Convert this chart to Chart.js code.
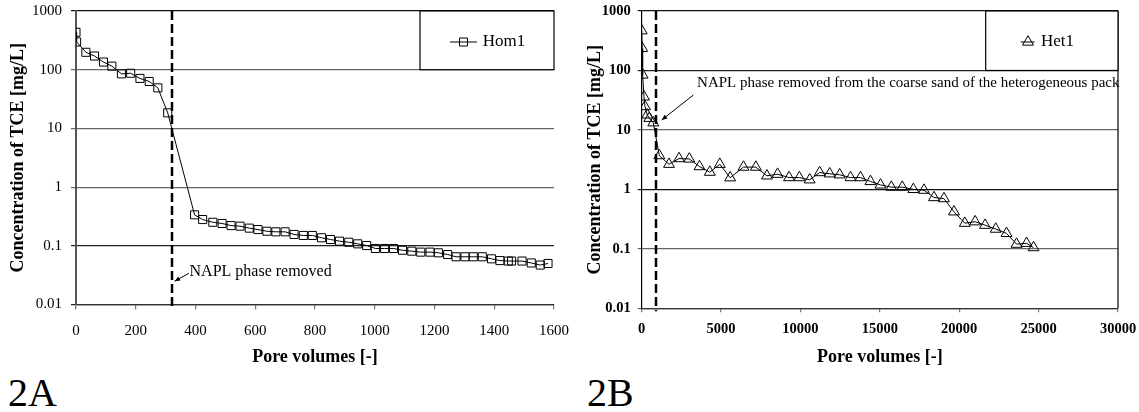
<!DOCTYPE html>
<html><head><meta charset="utf-8">
<script src="https://cdn.jsdelivr.net/npm/chart.js@4.4.0/dist/chart.umd.min.js"></script>
<style>
html,body{margin:0;padding:0;background:#fff;width:1139px;height:412px;overflow:hidden;}
#w1{position:absolute;left:0;top:0;width:570px;height:368px;}
#w2{position:absolute;left:575px;top:0;width:564px;height:368px;}
.lab{position:absolute;font-family:"Liberation Serif",serif;font-size:40px;line-height:1;color:#000;}
</style></head><body>
<div id="w1"><canvas id="c1" width="570" height="368"></canvas></div>
<div id="w2"><canvas id="c2" width="564" height="368"></canvas></div>
<div class="lab" style="left:8px;top:373px">2A</div>
<div class="lab" style="left:587px;top:373px">2B</div>
<script>
// ---- data ----
const homLabel = 'Hom1';
const homPV = [0,2,33,62,92,120,152,183,214,245,274,307,397,
  424,458,489,519,549,580,609,639,669,700,730,761,791,822,852,882,913,943,973,1002,
  1033,1063,1093,1124,1154,1185,1213,1244,1272,1302,1330,1360,1391,1419,1447,1458,1493,1524,1554,1580];
const homConc = [434,297,198,171,135,115,85,87,71,63,49,18.4,0.337,
  0.28,0.252,0.240,0.221,0.216,0.200,0.189,0.177,0.173,0.173,0.156,0.150,0.150,0.137,0.128,0.120,0.115,0.108,0.101,0.090,
  0.090,0.090,0.084,0.081,0.078,0.078,0.076,0.071,0.065,0.065,0.065,0.065,0.060,0.056,0.055,0.055,0.055,0.051,0.047,0.050];

const hetLabel = 'Het1';
const hetPV = [0,30,60,145,210,350,480,730,1110,1720,2350,3000,3640,4290,4920,5570,6410,7190,
  7890,8560,9280,9930,10580,11210,11840,12470,13150,13780,14410,15040,15720,16410,17110,17780,
  18410,19040,19670,20350,21000,21630,22300,22980,23610,24240,24680];
const hetConc = [466,236,84,36,24.7,17.9,15.7,13.2,3.7,2.65,3.3,3.25,2.42,1.95,2.65,1.57,2.37,2.37,
  1.69,1.80,1.58,1.58,1.45,1.92,1.83,1.76,1.58,1.58,1.36,1.19,1.09,1.09,1.0,0.97,
  0.73,0.70,0.42,0.27,0.286,0.25,0.215,0.182,0.12,0.124,0.105];

const yTicks = [0.01,0.1,1,10,100,1000];
const homXTicks = [0,200,400,600,800,1000,1200,1400,1600];
const hetXTicks = [0,5000,10000,15000,20000,25000,30000];

const homNapl = 322;   // pore volume where NAPL phase removed (hom)
const hetNapl = 900;   // pore volume where NAPL removed from coarse sand (het)
const homNote = 'NAPL phase removed';
const hetNote = 'NAPL phase removed from the coarse sand of the heterogeneous pack';
const yTitle = 'Concentration of TCE [mg/L]';
const xTitle = 'Pore volumes [-]';

// ---- helpers ----
const SERIF = '"Liberation Serif", "Times New Roman", serif';
const pts = (xs, ys) => xs.map((v, i) => ({x: v, y: ys[i]}));

const deco = {
  id: 'deco',
  afterDraw(chart, args, o) {
    const {ctx, chartArea: a, scales: {x, y}} = chart;
    ctx.save();
    if (o.rightBorder) {
      ctx.strokeStyle = '#000'; ctx.lineWidth = 1.2;
      ctx.beginPath(); ctx.moveTo(a.right, a.top); ctx.lineTo(a.right, a.bottom); ctx.stroke();
    }
    // dashed marker line
    const px = Math.round(x.getPixelForValue(o.napl));
    ctx.strokeStyle = '#000'; ctx.lineWidth = 2.5; ctx.setLineDash([9, 4]);
    ctx.beginPath(); ctx.moveTo(px, a.top); ctx.lineTo(px, a.bottom + 3); ctx.stroke();
    ctx.setLineDash([]);
    // annotation text + arrow
    const n = o.note;
    ctx.fillStyle = '#000'; ctx.font = n.size + 'px ' + SERIF;
    ctx.textBaseline = 'middle'; ctx.textAlign = 'left';
    ctx.fillText(n.text, x.getPixelForValue(n.tx), y.getPixelForValue(n.ty));
    const ax0 = x.getPixelForValue(n.ax0), ay0 = y.getPixelForValue(n.ay0);
    const ax1 = x.getPixelForValue(n.ax1), ay1 = y.getPixelForValue(n.ay1);
    ctx.lineWidth = 1; ctx.strokeStyle = '#000';
    ctx.beginPath(); ctx.moveTo(ax0, ay0); ctx.lineTo(ax1, ay1); ctx.stroke();
    const ang = Math.atan2(ay1 - ay0, ax1 - ax0), L = 6;
    ctx.beginPath();
    ctx.moveTo(ax1, ay1);
    ctx.lineTo(ax1 - L * Math.cos(ang - 0.4), ay1 - L * Math.sin(ang - 0.4));
    ctx.lineTo(ax1 - L * Math.cos(ang + 0.4), ay1 - L * Math.sin(ang + 0.4));
    ctx.closePath(); ctx.fill();
    // legend box
    const lg = o.legend;
    const bx0 = a.right - lg.w, by0 = a.top, by1 = y.getPixelForValue(100);
    ctx.fillStyle = '#fff'; ctx.fillRect(bx0, by0, lg.w, by1 - by0);
    ctx.strokeStyle = '#000'; ctx.lineWidth = 1.2;
    ctx.strokeRect(bx0, by0, lg.w, by1 - by0);
    const cy = by0 + 31;
    ctx.lineWidth = 1; ctx.strokeStyle = '#000';
    ctx.beginPath(); ctx.moveTo(bx0 + lg.l0, cy); ctx.lineTo(bx0 + lg.l1, cy); ctx.stroke();
    const mx = bx0 + lg.m;
    ctx.beginPath();
    if (lg.shape === 'rect') {
      ctx.rect(mx - 4, cy - 4, 8, 8);
    } else {
      const r = 6.3;
      ctx.moveTo(mx, cy - r);
      ctx.lineTo(mx + r * Math.sin(2.094), cy - r * Math.cos(2.094));
      ctx.lineTo(mx + r * Math.sin(4.189), cy - r * Math.cos(4.189));
      ctx.closePath();
    }
    ctx.stroke();
    ctx.fillStyle = '#000'; ctx.font = '17px ' + SERIF;
    ctx.textAlign = 'left'; ctx.textBaseline = 'middle';
    ctx.fillText(chart.data.datasets[0].label, bx0 + lg.t, cy);
    ctx.restore();
  }
};

function makeChart(id, cfg) {
  const tickFont = {family: SERIF, size: cfg.tickSize, weight: cfg.tickWeight};
  const titleFont = {family: SERIF, size: 18, weight: 'bold'};
  return new Chart(document.getElementById(id), {
    type: 'line',
    data: {datasets: [{
      label: cfg.label,
      data: pts(cfg.xs, cfg.ys),
      borderColor: '#000', borderWidth: 1,
      backgroundColor: 'rgba(0,0,0,0)',
      pointStyle: cfg.pointStyle, pointRadius: cfg.pointRadius,
      pointBorderColor: '#000', pointBorderWidth: 1,
      pointBackgroundColor: 'rgba(0,0,0,0)',
      tension: 0, fill: false
    }]},
    options: {
      responsive: false, animation: false, devicePixelRatio: 1,
      layout: {padding: {left: 0, top: cfg.padTop, right: cfg.padRight, bottom: 0}},
      plugins: {legend: {display: false}, tooltip: {enabled: false}, deco: cfg.deco},
      scales: {
        x: {
          type: 'linear', min: cfg.xTicks[0], max: cfg.xTicks[cfg.xTicks.length - 1],
          afterBuildTicks: s => { s.ticks = cfg.xTicks.map(v => ({value: v})); },
          afterFit: s => { s.height = cfg.xHeight; s.paddingLeft = 0; s.paddingRight = 0; },
          ticks: {font: tickFont, color: '#000', padding: cfg.xTickPad, maxRotation: 0,
                  callback: v => String(v)},
          grid: {drawOnChartArea: false, drawTicks: true, tickLength: cfg.tickLen, color: '#777', lineWidth: 1.2},
          border: {display: true, color: '#333', width: 1.2},
          title: {display: true, text: xTitle, font: titleFont, color: '#000', padding: {top: 0, bottom: 0}}
        },
        y: {
          type: 'logarithmic', min: 0.01, max: 1000,
          afterBuildTicks: s => { s.ticks = yTicks.map(v => ({value: v})); },
          afterFit: s => { s.width = cfg.yWidth; s.paddingTop = 0; s.paddingBottom = 0; },
          ticks: {font: tickFont, color: '#000', padding: cfg.yTickPad,
                  callback: v => String(v)},
          grid: {drawTicks: true, tickLength: cfg.tickLen, lineWidth: 1.2,
                 color: c => cfg.gridColors[yTicks.indexOf(c.tick ? c.tick.value : -1)] || '#666'},
          border: {display: true, color: cfg.yBorder, width: cfg.yBorderW},
          title: {display: true, text: yTitle, font: titleFont, color: '#000', padding: {top: cfg.yTitlePad, bottom: 0}}
        }
      }
    },
    plugins: [deco]
  });
}

makeChart('c1', {
  label: homLabel, xs: homPV, ys: homConc, xTicks: homXTicks,
  pointStyle: 'rect', pointRadius: 5.7,
  tickSize: 15, tickWeight: 'normal', tickLen: 5,
  xTickPad: 13, yTickPad: 9, xHeight: 63.5, yWidth: 76, yTitlePad: 7.2, padRight: 16, padTop: 11,
  gridColors: ['#222', '#222', '#666', '#666', '#666', '#111'],
  yBorder: '#555', yBorderW: 2,
  deco: {
    napl: homNapl, rightBorder: false,
    note: {text: homNote, size: 16, tx: 380, ty: 0.0366, ax0: 378, ay0: 0.034, ax1: 330, ay1: 0.025},
    legend: {w: 134, l0: 30, l1: 57, m: 43.5, t: 62.7, shape: 'rect'}
  }
});

makeChart('c2', {
  label: hetLabel, xs: hetPV, ys: hetConc, xTicks: hetXTicks,
  pointStyle: 'triangle', pointRadius: 6.3,
  tickSize: 14.5, tickWeight: 'bold', tickLen: 4,
  xTickPad: 8, yTickPad: 7, xHeight: 59.7, yWidth: 66.7, yTitlePad: 9.9, padRight: 21, padTop: 11,
  gridColors: ['#666', '#666', '#111', '#666', '#222', '#111'],
  yBorder: '#000', yBorderW: 1.2,
  deco: {
    napl: hetNapl, rightBorder: true,
    note: {text: hetNote, size: 15, tx: 3490, ty: 62, ax0: 3257, ay0: 38.7, ax1: 1263, ay1: 14.7},
    legend: {w: 132.3, l0: 35, l1: 49, m: 42.3, t: 55.3, shape: 'tri'}
  }
});
</script>
</body></html>
